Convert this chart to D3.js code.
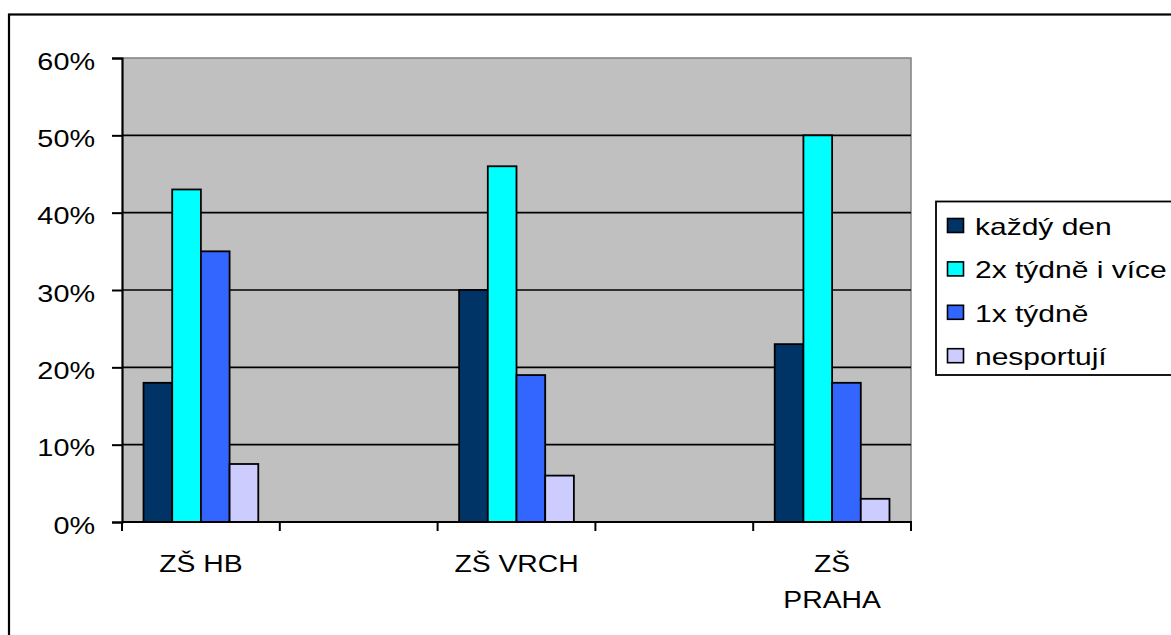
<!DOCTYPE html>
<html><head><meta charset="utf-8">
<script src="https://cdn.jsdelivr.net/npm/d3@7"></script>
<style>body{margin:0;background:#fff}svg{display:block}text{font-family:Arial,"Liberation Sans",sans-serif;fill:#000}</style>
</head><body>
<svg id="c" width="1171" height="635"></svg>
<script>
// ---- data ----
const categories = ["ZŠ HB", "", "ZŠ VRCH", "", "ZŠ PRAHA"];
const seriesNames = ["každý den", "2x týdně i více", "1x týdně", "nesportují"];
const kazdyDen   = [0.18, null, 0.30, null, 0.23];
const dvakratTyd = [0.43, null, 0.46, null, 0.50];
const jednouTyd  = [0.35, null, 0.19, null, 0.18];
const nesportuji = [0.075, null, 0.06, null, 0.03];
const seriesValues = [kazdyDen, dvakratTyd, jednouTyd, nesportuji];
const seriesColors = ["#003366", "#00FFFF", "#3366FF", "#CCCCFF"];
const yTicks = [0, 0.1, 0.2, 0.3, 0.4, 0.5, 0.6];

const svg = d3.select("#c");
const W = 1171, H = 635;
svg.append("rect").attr("width", W).attr("height", H).attr("fill", "#fff");
// outer border
svg.append("rect").attr("x", 9).attr("y", 14.5).attr("width", 1200).attr("height", 700)
  .attr("fill", "none").attr("stroke", "#000").attr("stroke-width", 2.2);

const L = 122, R = 911, T = 58, B = 522;
const y = d3.scaleLinear().domain([0, 0.6]).range([B, T]);
const x = d3.scaleBand().domain(d3.range(categories.length)).range([L, R]).paddingInner(0).paddingOuter(0);
const bw = x.bandwidth();
const barW = bw / 5.5;
const xs = d3.scaleBand().domain(d3.range(seriesNames.length)).range([barW * 0.75, barW * 4.75]).padding(0);

// plot background
svg.append("rect").attr("x", L).attr("y", T).attr("width", R - L).attr("height", B - T).attr("fill", "#C0C0C0");
// plot border top/right (gray)
svg.append("path").attr("d", `M${L},${T}H${R}V${B}`).attr("fill", "none").attr("stroke", "#808080").attr("stroke-width", 1.5);
// gridlines
svg.append("g").selectAll("line").data(yTicks.filter(t => t > 0 && t < 0.6)).join("line")
  .attr("x1", L).attr("x2", R).attr("y1", d => y(d)).attr("y2", d => y(d))
  .attr("stroke", "#000").attr("stroke-width", 1.6);

// bars
const flat = [];
seriesValues.forEach((vals, s) => vals.forEach((v, c) => { if (v != null) flat.push({s, c, v}); }));
svg.append("g").selectAll("rect").data(flat).join("rect")
  .attr("x", d => x(d.c) + xs(d.s))
  .attr("y", d => y(d.v))
  .attr("width", xs.bandwidth())
  .attr("height", d => y(0) - y(d.v))
  .attr("fill", d => seriesColors[d.s])
  .attr("stroke", "#000").attr("stroke-width", 1.8);

// y axis
const yAxis = d3.axisLeft(y).tickValues(yTicks).tickFormat(d3.format(".0%")).tickSize(10).tickPadding(0);
const gy = svg.append("g").attr("transform", `translate(${L},0)`).call(yAxis);
gy.select(".domain").attr("stroke", "#000").attr("stroke-width", 2.2);
gy.selectAll(".tick line").attr("stroke", "#000").attr("stroke-width", 2);
gy.selectAll(".tick text").each(function(d) {
  const t = d3.select(this);
  t.attr("x", null).attr("dy", null).attr("text-anchor", "end")
   .attr("font-size", 24).attr("font-family", "Arial, 'Liberation Sans', sans-serif")
   .attr("transform", `translate(-27,11) scale(1.2,1)`);
});

// x axis
const gx = svg.append("g").attr("transform", `translate(0,${B})`);
gx.append("line").attr("x1", L).attr("x2", R + 1).attr("stroke", "#000").attr("stroke-width", 2.2);
const boundaries = d3.range(categories.length + 1).map(i => i < categories.length ? x(i) : R);
gx.selectAll(".tk").data(boundaries).join("line").attr("class", "tk")
  .attr("x1", d => d).attr("x2", d => d).attr("y1", 0).attr("y2", 9)
  .attr("stroke", "#000").attr("stroke-width", 2);
const labelLines = categories.map(c => c === "ZŠ PRAHA" ? ["ZŠ", "PRAHA"] : (c ? [c] : []));
labelLines.forEach((lines, i) => {
  lines.forEach((ln, j) => {
    gx.append("text").attr("text-anchor", "middle").attr("font-size", 24)
      .attr("transform", `translate(${x(i) + bw / 2},${50 + j * 36}) scale(1.18,1)`)
      .text(ln);
  });
});

// legend
const lg = svg.append("g");
lg.append("rect").attr("x", 936).attr("y", 201.5).attr("width", 260).attr("height", 173.5)
  .attr("fill", "#fff").attr("stroke", "#000").attr("stroke-width", 1.8);
seriesNames.forEach((n, i) => {
  const cy = 225.5 + i * 43.4;
  lg.append("rect").attr("x", 947.5).attr("y", cy - 7).attr("width", 16).attr("height", 14)
    .attr("fill", seriesColors[i]).attr("stroke", "#000").attr("stroke-width", 1.6);
  lg.append("text").attr("font-size", 24)
    .attr("transform", `translate(975,${cy + 9.5}) scale(1.25,1)`).text(n);
});
</script>
</body></html>
